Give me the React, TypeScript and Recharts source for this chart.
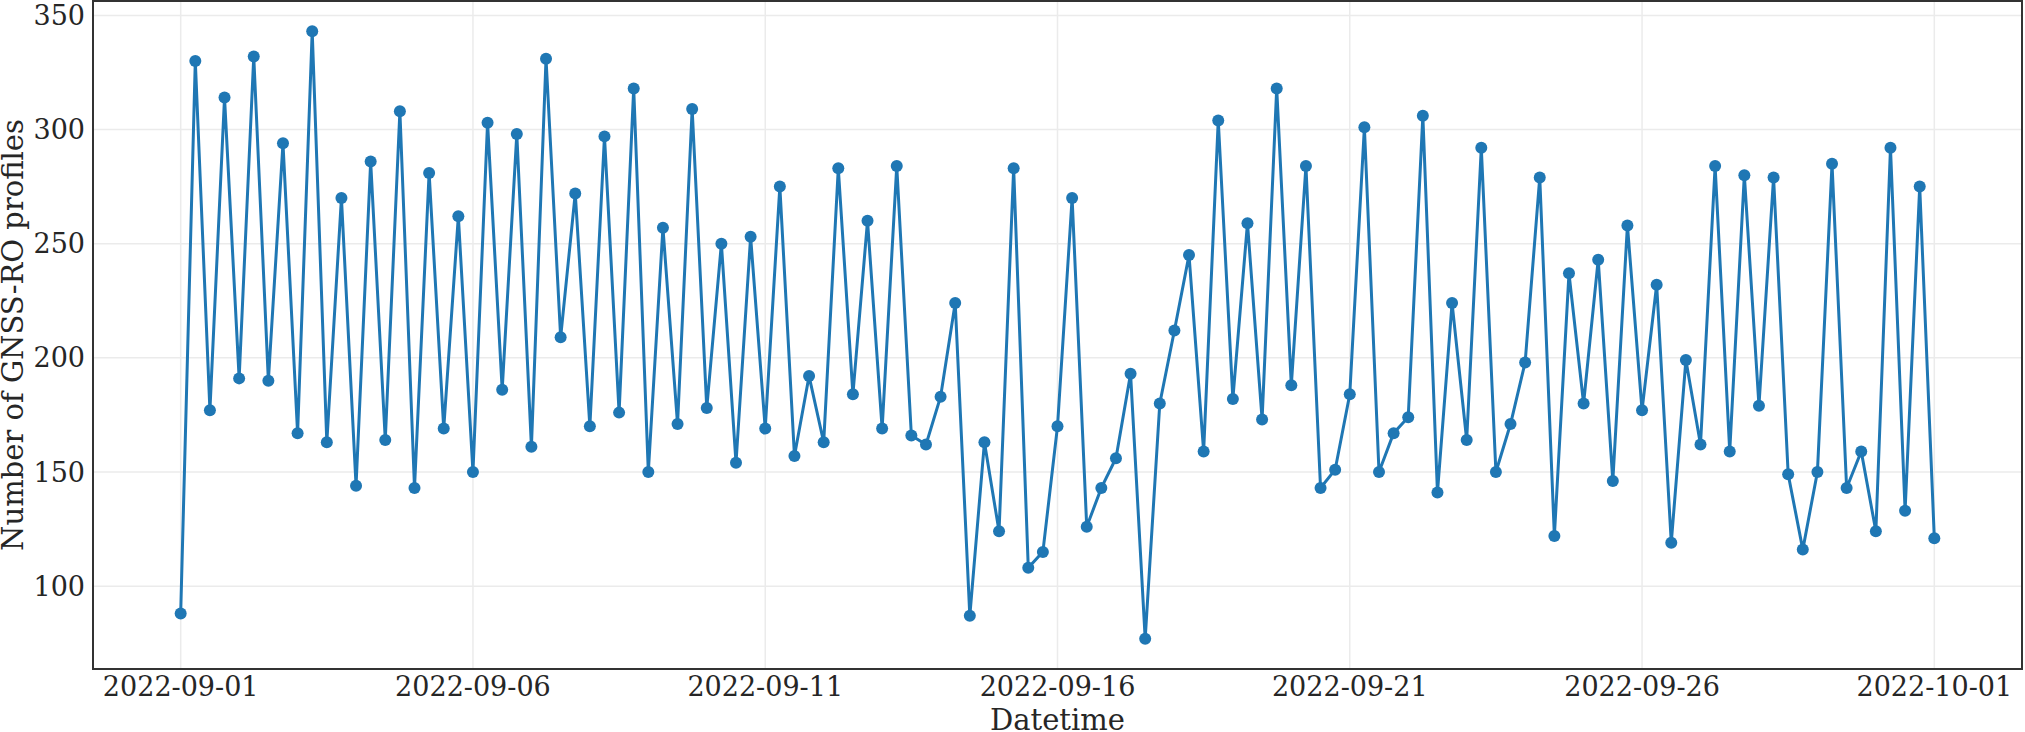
import { LineChart, Line, XAxis, YAxis, CartesianGrid, ReferenceArea } from 'recharts';

// six-hourly GNSS-RO profile counts, 2022-09-01 00:00 .. 2022-10-01 00:00
const STEP_DAYS = 0.25;

const profileCounts = [
  88, 330, 177, 314, 191, 332, 190, 294, 167, 343, 163, 270, 144, 286, 164, 308, 143, 281, 169, 262,
  150, 303, 186, 298, 161, 331, 209, 272, 170, 297, 176, 318, 150, 257, 171, 309, 178, 250, 154, 253,
  169, 275, 157, 192, 163, 283, 184, 260, 169, 284, 166, 162, 183, 224, 87, 163, 124, 283, 108, 115,
  170, 270, 126, 143, 156, 193, 77, 180, 212, 245, 159, 304, 182, 259, 173, 318, 188, 284, 143, 151,
  184, 301, 150, 167, 174, 306, 141, 224, 164, 292, 150, 171, 198, 279, 122, 237, 180, 243, 146, 258,
  177, 232, 119, 199, 162, 284, 159, 280, 179, 279, 149, 116, 150, 285, 143, 159, 124, 292, 133, 275,
  121,
];

const tickDays = [0, 5, 10, 15, 20, 25, 30];
const tickLabels = ['2022-09-01', '2022-09-06', '2022-09-11', '2022-09-16', '2022-09-21', '2022-09-26', '2022-10-01'];
const yTicks = [100, 150, 200, 250, 300, 350];

const data = profileCounts.map((count, i) => ({ day: i * STEP_DAYS, count }));

const FONT = '"DejaVu Serif", "Liberation Serif", serif';
const TEXT = '#262626';
const BLUE = '#1f77b4';

function YTitle(props: any) {
  const vb = props.viewBox || { x: 0, y: 1, width: 93, height: 668 };
  const cx = vb.x + 23;
  const cy = vb.y + vb.height / 2;
  return (
    <text
      x={cx}
      y={cy}
      transform={`rotate(-90, ${cx}, ${cy})`}
      textAnchor="middle"
      fontFamily={FONT}
      fontSize={29}
      fill={TEXT}
    >
      Number of GNSS-RO profiles
    </text>
  );
}

export default function App() {
  return (
    <div style={{ position: 'absolute', left: 0, top: 0, background: '#fff' }}>
      <LineChart width={2025} height={732} data={data} margin={{ top: 1, right: 3, bottom: 0, left: 0 }}>
        <CartesianGrid stroke="#ebebeb" strokeWidth={1.5} />
        <XAxis
          dataKey="day"
          type="number"
          domain={[-1.5, 31.5]}
          allowDataOverflow
          ticks={tickDays}
          tickFormatter={(d: number) => tickLabels[tickDays.indexOf(d)]}
          height={63}
          axisLine={false}
          tickLine={false}
          tick={{ fontSize: 27, fontFamily: FONT, fill: TEXT }}
          label={{ value: 'Datetime', position: 'insideBottom', offset: 2, fontSize: 29, fontFamily: FONT, fill: TEXT }}
        />
        <YAxis
          type="number"
          domain={[63.7, 356.3]}
          allowDataOverflow
          ticks={yTicks}
          width={93}
          axisLine={false}
          tickLine={false}
          tick={{ fontSize: 27, fontFamily: FONT, fill: TEXT }}
          label={<YTitle />}
        />
        <Line
          type="linear"
          dataKey="count"
          stroke={BLUE}
          strokeWidth={3}
          dot={{ r: 6, fill: BLUE, stroke: BLUE, strokeWidth: 0 }}
          activeDot={false}
          isAnimationActive={false}
        />
        <ReferenceArea
          x1={-1.5}
          x2={31.5}
          y1={63.7}
          y2={356.3}
          fill="none"
          fillOpacity={0}
          stroke="#333333"
          strokeWidth={2}
          ifOverflow="visible"
        />
      </LineChart>
    </div>
  );
}
